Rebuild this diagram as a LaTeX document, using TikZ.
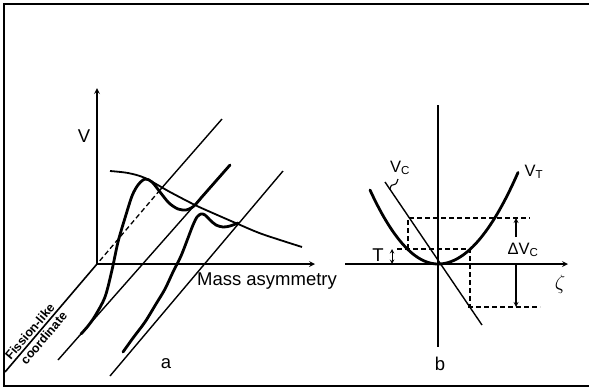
\documentclass[tikz,border=0pt]{standalone}
\usepackage{fontspec}
\setmainfont{Liberation Sans}
\begin{document}
\begin{tikzpicture}[x=1pt, y=-1pt, >=stealth,
  axis/.style={line width=1.6pt},
  slant/.style={line width=1.4pt},
  curve/.style={line width=2.8pt, line join=round, line cap=round},
  dashline/.style={line width=1.3pt, dash pattern=on 5pt off 3pt},
  lbl/.style={inner sep=0pt, font=\fontsize{18.5}{21}\selectfont},
  sublbl/.style={inner sep=0pt, font=\fontsize{16.5}{19}\selectfont},
  axlbl/.style={inner sep=2pt, font=\fontsize{12.5}{14}\selectfont\bfseries}]
\useasboundingbox (0,0) rectangle (589,389);
\draw[line width=2pt] (595,4) -- (4,4) -- (4,386) -- (595,386);
% a
\coordinate (O) at (97,264);
\coordinate (Vtop) at (97,88);
\coordinate (Mend) at (315,264);
\coordinate (Fend) at (5,372);
\draw[axis,->] (O) -- (Vtop);
\draw[axis,->] (O) -- (Mend);
\draw[axis] (Fend) -- (O)
  node[axlbl, pos=0.33, sloped, above] (fis) {Fission-like}
  node[axlbl, pos=0.36, sloped, below] (coord) {coordinate};
\node[lbl] (V) at (84,136) {V};
\node[lbl] (mass) at (267,281) {Mass asymmetry};
\node[lbl] (a) at (166,364) {a};
\coordinate (A1) at (222,119);
\coordinate (A2) at (160,190);
\coordinate (B1) at (230,165);
\coordinate (B3) at (58,360);
\coordinate (C1) at (283,171);
\coordinate (C3) at (110,376);
\draw[slant] (A1) -- (A2);
\draw[slant, dashline] (A2) -- (O);
\draw[slant] (B1) -- (B3);
\draw[slant] (C1) -- (C3);
\draw[line width=1.8pt] plot[smooth] coordinates {(110,171) (128,173) (145,178)
  (170,192) (195,205) (215,214) (238,224) (262,234) (302,247)};
\draw[curve] plot[smooth] coordinates {(81,334) (88,326) (95,316) (105,297)
  (112,270) (118,242) (125,218) (132,196) (138,185) (145,179) (152,182)
  (160,192) (169,203) (178,209) (186,210) (191,208) (195,205) (201,198)} -- (B1);
\draw[curve] plot[smooth] coordinates {(123,352) (133,338) (145,322) (156,304)
  (165,289) (173,272) (181,256) (188,238) (193,225) (197,217) (201,214)
  (205,215) (210,220) (216,225) (223,227) (230,226) (238,223)};
% b
\coordinate (Z) at (438,264);
\coordinate (Ytop) at (438,105);
\coordinate (Ybot) at (438,347);
\coordinate (Zl) at (345,264);
\coordinate (Zr) at (568,264);
\draw[axis] (Ytop) -- (Ybot);
\draw[axis,->] (Zl) -- (Zr);
\node[lbl, font=\fontsize{21}{24}\selectfont] (zeta) at (560,284) {$\zeta$};
\draw[curve] plot[domain=-68:80, samples=60, smooth]
  ({438+\x},{264-ifthenelse(\x<0,0.016,0.0143)*\x*\x});
\coordinate (VC1) at (385,182);
\coordinate (VC2) at (482,325);
\draw[slant] (VC1) -- (VC2);
\draw[dashline] (408,249) -- (408,218) -- (530,218);
\draw[dashline] (397,249) -- (470,249) -- (470,307);
\draw[dashline] (468,307) -- (540,307);
\coordinate (T1) at (392,249);
\coordinate (T2) at (392,264);
\draw[<->, line width=1pt] (T1) -- (T2);
\node[lbl] (T) at (378,255) {T};
\node[sublbl] (dvc) at (523,250) {ΔV\textsubscript{C}};
\coordinate (D1) at (516,237);
\coordinate (D2) at (516,218);
\coordinate (D3) at (516,264);
\coordinate (D4) at (516,307);
\draw[->, line width=1.2pt] (D1) -- (D2);
\draw[->, line width=1.2pt] (D3) -- (D4);
\node[sublbl] (vc) at (400,168) {V\textsubscript{C}};
\draw[line width=1.1pt] (390,189) .. controls (392,180) and (395,190) .. (398,179);
\node[sublbl] (vt) at (534,172) {V\textsubscript{T}};
\node[lbl] (b) at (440,364) {b};
\end{tikzpicture}
\end{document}
